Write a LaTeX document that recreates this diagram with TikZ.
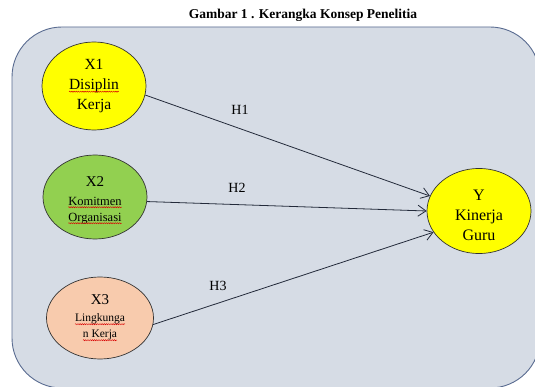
\documentclass[tikz,border=0pt]{standalone}
\usepackage{fontspec}
\setmainfont{Liberation Serif}
\usetikzlibrary{arrows.meta,decorations.pathmorphing,shapes.geometric}
\definecolor{panelfill}{RGB}{214,220,229}
\definecolor{paneldraw}{RGB}{90,108,145}
\definecolor{xyellow}{RGB}{255,255,0}
\definecolor{xgreen}{RGB}{146,208,80}
\definecolor{xpeach}{RGB}{248,203,173}
\definecolor{linecol}{RGB}{35,42,58}
\newcommand\sq[1]{\tikz[baseline=(w.base)]{\node[shape=rectangle,draw=none,fill=none,inner sep=0pt,outer sep=0pt,minimum width=0pt,minimum height=0pt] (w) {#1};\draw[draw=red!85!black,fill=none,line width=0.45pt,decorate,decoration={snake,amplitude=0.55pt,segment length=2.2pt}] ([yshift=-2.2pt]w.base west) -- ([yshift=-2.2pt]w.base east);}}
\tikzset{
  var/.style={ellipse,draw=black!80,line width=0.7pt,minimum width=104pt,inner sep=0pt,align=center,text=black},
  link/.style={draw=linecol,line width=0.8pt,-{Straight Barb[length=8pt,width=11pt,line width=0.8pt]}},
  hlab/.style={font=\fontsize{14}{16}\selectfont,text=black,inner sep=1pt}
}
\begin{document}
\begin{tikzpicture}[x=1pt,y=-1pt]
\useasboundingbox (0,0) rectangle (535,387);
\clip (0,0) rectangle (535,387);
\fill[white] (0,0) rectangle (535,387);
\node[font=\bfseries\fontsize{13.5}{15}\selectfont] (title) at (303,15) {Gambar 1 . Kerangka Konsep Penelitia};
\draw[fill=panelfill,draw=paneldraw,line width=0.9pt,rounded corners=50pt] (12,27) rectangle (540,388);
\node[var,fill=xyellow,minimum height=88pt,font=\fontsize{15.5}{20}\selectfont] (X1) at (94,86)
  {X1\\\sq{Disiplin}\\Kerja};
\node[var,fill=xgreen,minimum height=84pt,font=\fontsize{12.5}{16}\selectfont] (X2) at (95,197)
  {\rule{0pt}{16pt}{\fontsize{15}{18}\selectfont X2}\\[3pt]\sq{Komitmen}\\\sq{Organisasi}};
\node[var,fill=xpeach,minimum width=107pt,minimum height=82pt,font=\fontsize{11.5}{16}\selectfont] (X3) at (100,318)
  {{\fontsize{15}{18}\selectfont X3}\\[1pt]\sq{Lingkunga}\\\sq{n Kerja}};
\node[var,fill=xyellow,minimum height=84pt,font=\fontsize{16}{20}\selectfont] (Y) at (479,211)
  {\rule{0pt}{20pt}Y\\Kinerja\\Guru};
\draw[link] (X1.350) -- (Y.163);
\draw[link] (X2.355) -- (Y.180);
\draw[link] (X3.353) -- (Y.205);
\node[hlab] (H1) at (240,110) {H1};
\node[hlab] (H2) at (237,188) {H2};
\node[hlab] (H3) at (218,286) {H3};
\end{tikzpicture}
\end{document}
